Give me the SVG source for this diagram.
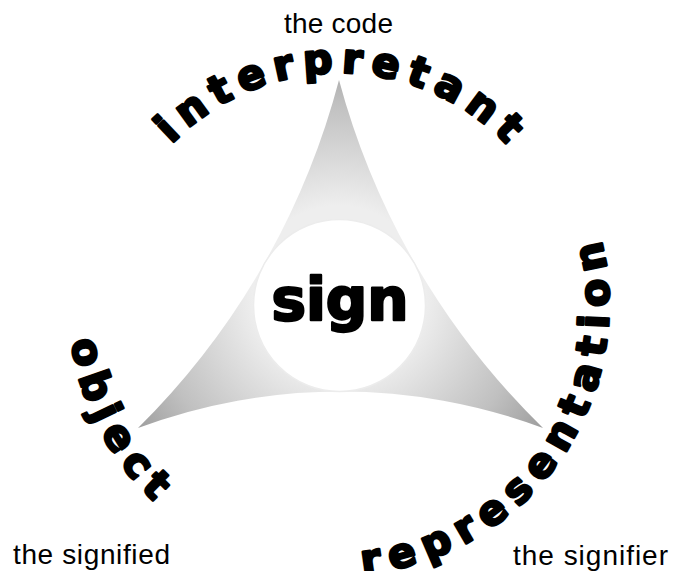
<svg xmlns="http://www.w3.org/2000/svg" xmlns:xlink="http://www.w3.org/1999/xlink" width="675" height="571" viewBox="0 0 675 571">
  <defs>
    <radialGradient id="shade" gradientUnits="userSpaceOnUse" cx="339" cy="292" r="262">
      <stop offset="0.33" stop-color="#eeeeee"/>
      <stop offset="0.72" stop-color="#c0c0c0"/>
      <stop offset="1" stop-color="#929292"/>
    </radialGradient>
    <path id="arcTop" d="M 339,537 A 232 232 0 1 1 339,73 A 232 232 0 1 1 339,537"/>
    <path id="arcRing" d="M 339,35 A 270 270 0 1 0 339,575 A 270 270 0 1 0 339,35"/>
    <style>
      .label { font-family: "Liberation Sans", Arial, sans-serif; font-size: 28px; fill: #000; }
      .arc { font-family: "DejaVu Sans", sans-serif; font-weight: bold; font-size: 41px; fill: #000; stroke: #000; stroke-width: 2.6px; stroke-linejoin: round; letter-spacing: 8.2px; }
      .core { font-family: "DejaVu Sans", sans-serif; font-weight: bold; font-size: 58px; fill: #000; stroke: #000; stroke-width: 2.4px; stroke-linejoin: round; }
    </style>
  </defs>
  <rect width="675" height="571" fill="#fff"/>

  <g id="triangle">
    <path d="M 339,80 A 762 762 0 0 0 543,428 A 579 579 0 0 0 138,428 A 762 762 0 0 0 339,80 Z" fill="url(#shade)"/>
  </g>

  <g id="sign">
    <circle cx="339.5" cy="305.5" r="86" fill="#fff" stroke="#ececec" stroke-width="1.5"/>
    <text class="core" x="340" y="320" text-anchor="middle">sign</text>
  </g>

  <g id="interpretant">
    <text class="arc"><textPath xlink:href="#arcTop" href="#arcTop" startOffset="50.3%" text-anchor="middle">interpretant</textPath></text>
  </g>

  <g id="object">
    <text class="arc"><textPath xlink:href="#arcRing" href="#arcRing" startOffset="32.8%" text-anchor="middle">object</textPath></text>
  </g>

  <g id="representation">
    <text class="arc" style="letter-spacing:9.3px"><textPath xlink:href="#arcRing" href="#arcRing" startOffset="65.4%" text-anchor="middle">representation</textPath></text>
  </g>

  <g id="labels">
    <text class="label" x="338.5" y="33" text-anchor="middle" textLength="109">the code</text>
    <text class="label" x="13" y="564" textLength="157">the signified</text>
    <text class="label" x="513" y="565" textLength="155">the signifier</text>
  </g>
</svg>
